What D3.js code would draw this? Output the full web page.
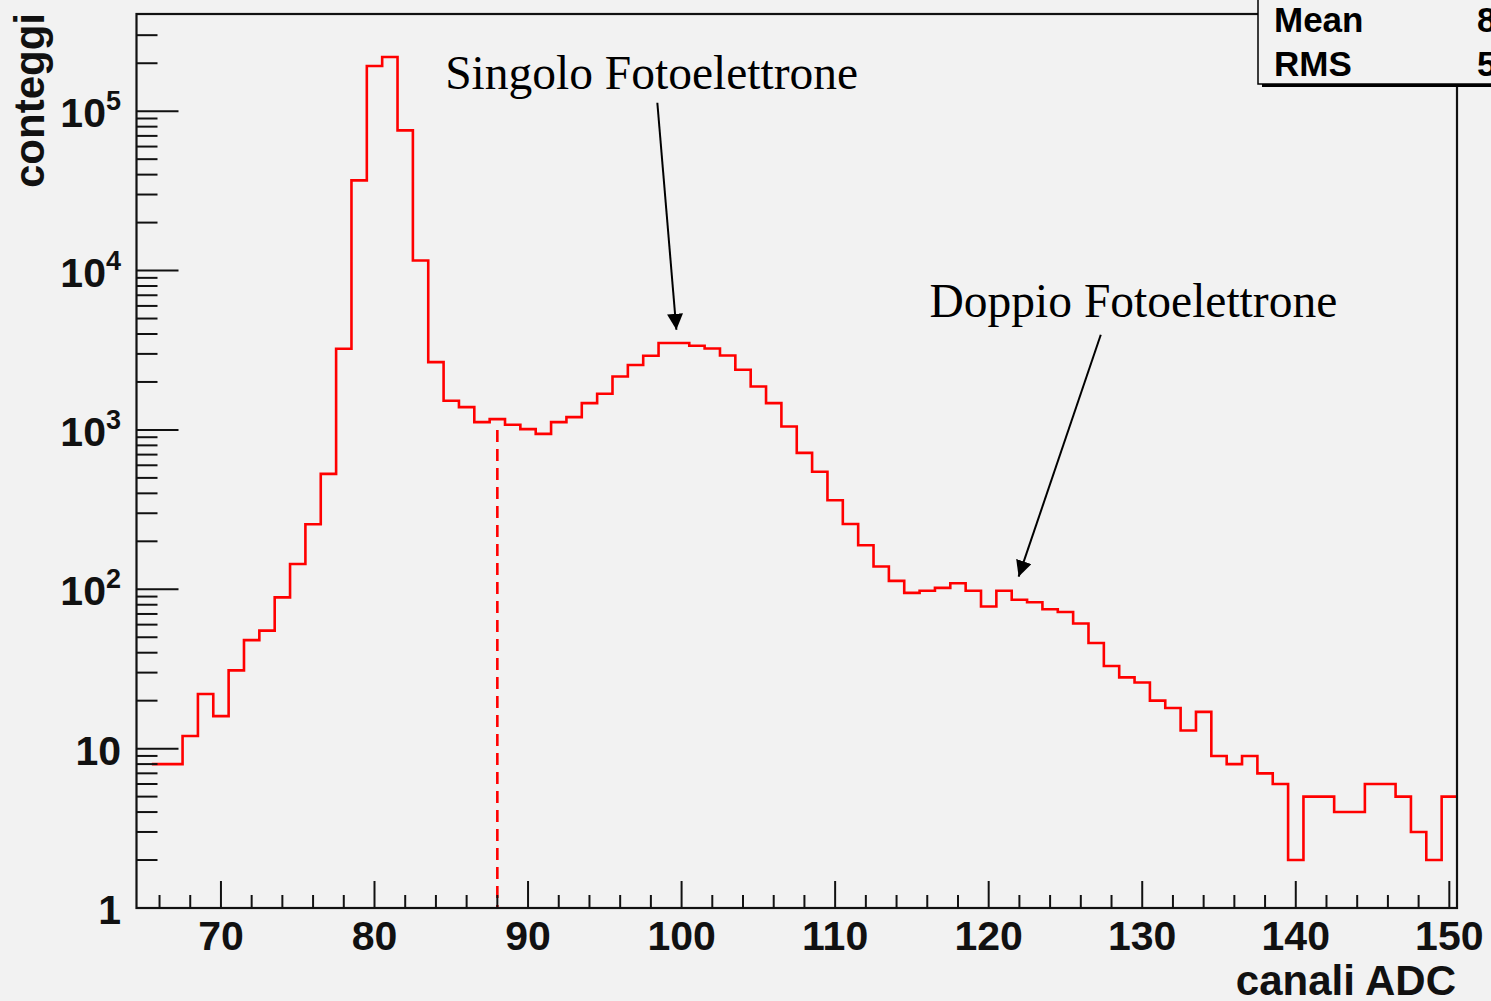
<!DOCTYPE html>
<html>
<head>
<meta charset="utf-8">
<script src="https://cdn.jsdelivr.net/npm/d3@7"></script>
<style>
  html, body { margin: 0; padding: 0; background: #f2f2f2; }
  svg { display: block; }
</style>
</head>
<body>
<svg id="chart" width="1491" height="1001"></svg>
<script>
// ADC channel (bin centre) and counts per channel
const channels = [66, 67, 68, 69, 70, 71, 72, 73, 74, 75, 76, 77, 78, 79, 80, 81, 82, 83, 84, 85,
  86, 87, 88, 89, 90, 91, 92, 93, 94, 95, 96, 97, 98, 99, 100, 101, 102, 103, 104, 105,
  106, 107, 108, 109, 110, 111, 112, 113, 114, 115, 116, 117, 118, 119, 120, 121, 122, 123, 124, 125,
  126, 127, 128, 129, 130, 131, 132, 133, 134, 135, 136, 137, 138, 139, 140, 141, 142, 143, 144, 145,
  146, 147, 148, 149, 150];
const counts = [8, 8, 12, 22, 16, 31, 48, 55, 89, 144, 256, 530, 3230, 36800, 192000, 219000, 75800, 11560, 2665, 1523,
  1390, 1119, 1169, 1077, 1011, 944, 1119, 1203, 1472, 1686, 2164, 2553, 2918, 3508, 3508, 3373, 3245, 2931, 2384, 1871,
  1472, 1050, 718, 546, 362, 257, 189, 139, 113, 95, 98, 102, 109, 98, 78, 98, 86, 83, 75, 72,
  61, 46, 33, 28, 26, 20, 18, 13, 17, 9, 8, 9, 7, 6, 2, 5, 5, 4, 4, 6,
  6, 5, 3, 2, 5];

// axis ranges and labels
const xRange = [64.5, 150.5];
const yRange = [1, Math.pow(10, 5.61)];
const xMajorTicks = [70, 80, 90, 100, 110, 120, 130, 140, 150];
const yDecades = [0, 1, 2, 3, 4, 5];
const xTitle = "canali ADC";
const yTitle = "conteggi";

// threshold marker (dashed) in ADC channels
const threshold = { x: 88, top: 1000 };

// annotations: text anchor and arrow, in data units
const notes = [
  { text: "Singolo Fotoelettrone", tx: 84.6, ty: 1.38e5, from: [98.42, 1.13e5], to: [99.66, 4250] },
  { text: "Doppio Fotoelettrone", tx: 116.15, ty: 5130, from: [127.3, 3955], to: [121.95, 120] }
];

const bg = "#f2f2f2";
const svg = d3.select("#chart");
svg.append("rect").attr("width", 1491).attr("height", 1001).attr("fill", bg);

const frame = { left: 136.5, right: 1457, top: 14, bottom: 908 };
const x = d3.scaleLinear().domain(xRange).range([frame.left, frame.right]);
const y = d3.scaleLog().domain(yRange).range([frame.bottom, frame.top]);

const sansBold = "'Liberation Sans', Arial, Helvetica, sans-serif";

// histogram outline as a step path
const binW = 1;
const pts = [];
channels.forEach((c, i) => {
  pts.push([x(c - binW / 2), y(counts[i])]);
  pts.push([x(c + binW / 2), y(counts[i])]);
});
svg.append("path")
  .attr("d", d3.line()(pts))
  .attr("fill", "none")
  .attr("stroke", "#ff0000")
  .attr("stroke-width", 2.6)
  .attr("stroke-linejoin", "miter");

// threshold dashed line
svg.append("line")
  .attr("x1", x(threshold.x)).attr("x2", x(threshold.x))
  .attr("y1", y(threshold.top)).attr("y2", y(1))
  .attr("stroke", "#ff0000")
  .attr("stroke-width", 2.6)
  .attr("stroke-dasharray", "12,7");

// ticks
const tickG = svg.append("g").attr("stroke", "#111").attr("stroke-width", 2);
// x ticks: major every 10, minor every 2
const xMinor = d3.range(66, 151, 2).filter(v => xMajorTicks.indexOf(v) < 0);
xMajorTicks.forEach(v => {
  tickG.append("line").attr("x1", x(v)).attr("x2", x(v))
    .attr("y1", frame.bottom).attr("y2", frame.bottom - 27);
});
xMinor.forEach(v => {
  tickG.append("line").attr("x1", x(v)).attr("x2", x(v))
    .attr("y1", frame.bottom).attr("y2", frame.bottom - 13);
});
// y ticks: decades long, 2..9 short
yDecades.forEach(d => {
  const base = Math.pow(10, d);
  tickG.append("line").attr("x1", frame.left).attr("x2", frame.left + 42)
    .attr("y1", y(base)).attr("y2", y(base));
  for (let m = 2; m <= 9; m++) {
    const v = m * base;
    if (v > yRange[1] * 0.97) break;
    tickG.append("line").attr("x1", frame.left).attr("x2", frame.left + 21)
      .attr("y1", y(v)).attr("y2", y(v));
  }
});

// frame
svg.append("rect")
  .attr("x", frame.left).attr("y", frame.top)
  .attr("width", frame.right - frame.left).attr("height", frame.bottom - frame.top)
  .attr("fill", "none").attr("stroke", "#111").attr("stroke-width", 2.2);

// x tick labels
svg.append("g").selectAll("text").data(xMajorTicks).join("text")
  .attr("x", d => x(d)).attr("y", 950)
  .attr("text-anchor", "middle")
  .attr("font-family", sansBold).attr("font-weight", "bold").attr("font-size", 41)
  .attr("fill", "#111")
  .text(d => d);

// y tick labels with exponents
const yl = svg.append("g");
yDecades.forEach(d => {
  const t = yl.append("text")
    .attr("x", 121).attr("y", y(Math.pow(10, d)) + 16)
    .attr("text-anchor", "end")
    .attr("font-family", sansBold).attr("font-weight", "bold").attr("font-size", 41)
    .attr("fill", "#111");
  if (d === 0) t.text("1");
  else if (d === 1) t.text("10");
  else {
    t.append("tspan").text("10");
    t.append("tspan").attr("dy", -17).attr("font-size", 27).text(d);
  }
});

// axis titles
svg.append("text")
  .attr("x", 1456).attr("y", 995)
  .attr("text-anchor", "end")
  .attr("font-family", sansBold).attr("font-weight", "bold").attr("font-size", 42)
  .attr("fill", "#111")
  .text(xTitle);
svg.append("text")
  .attr("transform", "translate(44,13) rotate(-90)")
  .attr("text-anchor", "end")
  .attr("font-family", sansBold).attr("font-weight", "bold").attr("font-size", 42)
  .attr("fill", "#111")
  .text(yTitle);

// annotations with arrows
svg.append("defs").append("marker")
  .attr("id", "arrowhead")
  .attr("viewBox", "0 0 16 16")
  .attr("refX", 16).attr("refY", 8)
  .attr("markerWidth", 16).attr("markerHeight", 16)
  .attr("markerUnits", "userSpaceOnUse")
  .attr("orient", "auto")
  .append("path").attr("d", "M0,0 L16,8 L0,16 Z").attr("fill", "#000");

notes.forEach(n => {
  svg.append("text")
    .attr("x", x(n.tx)).attr("y", y(n.ty))
    .attr("font-family", "'Liberation Serif', 'Times New Roman', serif")
    .attr("font-size", 47.5)
    .attr("fill", "#000")
    .text(n.text);
  svg.append("line")
    .attr("x1", x(n.from[0])).attr("y1", y(n.from[1]))
    .attr("x2", x(n.to[0])).attr("y2", y(n.to[1]))
    .attr("stroke", "#000").attr("stroke-width", 2)
    .attr("marker-end", "url(#arrowhead)");
});

// statistics box (Mean / RMS computed from the bins)
const total = d3.sum(counts);
const mean = d3.sum(channels, (c, i) => c * counts[i]) / total;
const rms = Math.sqrt(d3.sum(channels, (c, i) => (c - mean) * (c - mean) * counts[i]) / total);
const box = { x: 1258, y: -30, w: 400, h: 114 };
svg.append("rect").attr("x", box.x + 4).attr("y", box.y + 3)
  .attr("width", box.w).attr("height", box.h).attr("fill", "#000");
svg.append("rect").attr("x", box.x).attr("y", box.y)
  .attr("width", box.w).attr("height", box.h)
  .attr("fill", bg).attr("stroke", "#000").attr("stroke-width", 1.5);
const stats = [["Mean", mean.toFixed(2)], ["RMS", rms.toFixed(3)]];
stats.forEach((s, i) => {
  const yy = 32 + i * 44;
  svg.append("text").attr("x", 1274).attr("y", yy)
    .attr("font-family", sansBold).attr("font-weight", "bold").attr("font-size", 35)
    .attr("fill", "#000").text(s[0]);
  svg.append("text").attr("x", 1477).attr("y", yy)
    .attr("font-family", sansBold).attr("font-weight", "bold").attr("font-size", 35)
    .attr("fill", "#000").text(s[1]);
});
</script>
</body>
</html>
